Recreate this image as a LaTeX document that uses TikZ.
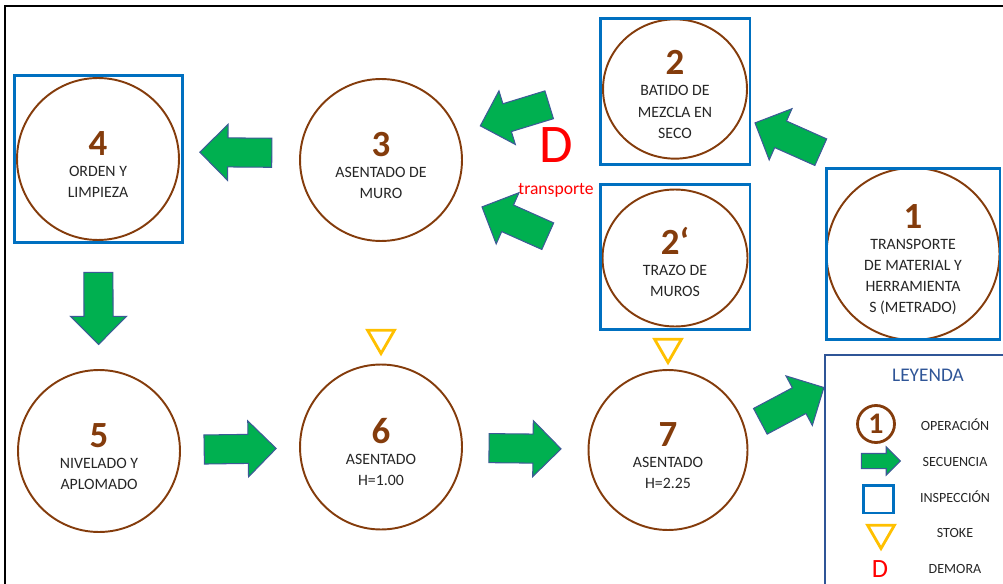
\documentclass[tikz,border=0pt]{standalone}
\usepackage{fontspec}
\setmainfont{Carlito}
\usetikzlibrary{shapes.geometric,shapes.arrows,positioning}

\definecolor{cafe}{RGB}{132,60,12}
\definecolor{azul}{RGB}{0,112,192}
\definecolor{verde}{RGB}{0,176,80}
\definecolor{borde}{RGB}{60,90,150}
\definecolor{ambar}{RGB}{255,192,0}
\definecolor{azuloscuro}{RGB}{47,85,151}
\definecolor{texto}{RGB}{38,38,38}

\tikzset{
  op/.style={draw=cafe,line width=1.1pt,ellipse,inner sep=0pt,align=center,
    font=\fontsize{9}{12}\selectfont,text=texto},
  insp/.style={draw=azul,line width=1.7pt,rectangle,inner sep=0pt},
  sec/.style={single arrow,draw=borde,fill=verde,line width=0.6pt,
    text height=0pt,text depth=0pt,inner xsep=0pt,inner ysep=0.28cm,
    minimum height=1.44cm,single arrow head extend=0.27cm,
    allow upside down},
  stoke/.style={regular polygon,regular polygon sides=3,shape border rotate=180,
    draw=ambar,line width=1.6pt,inner sep=0pt,minimum size=0.62cm},
  leg/.style={font=\fontsize{8}{10}\selectfont,text=texto},
}
\newcommand{\opnum}[1]{{\fontsize{21}{21}\selectfont\bfseries\color{cafe}\rule{0pt}{20pt}#1}}

\begin{document}
\begin{tikzpicture}[x=0.02cm,y=-0.02cm]
\useasboundingbox (0,0) rectangle (1003,584);
\draw[line width=1.4pt] (5,600) -- (5,6) -- (1020,6);

% operaciones
\node[op,minimum width=3.46cm,minimum height=3.34cm] (op1) at (913,254)
    {\opnum{1}\\TRANSPORTE\\DE MATERIAL Y\\HERRAMIENTA\\S (METRADO)};
\node[op,minimum width=2.88cm,minimum height=2.72cm] (op2) at (675,89)
    {\opnum{2}\\BATIDO DE\\MEZCLA EN\\SECO};
\node[op,minimum width=2.9cm,minimum height=2.74cm] (op2b) at (675,258)
    {\opnum{2‘}\\TRAZO DE\\MUROS};
\node[op,minimum width=3.24cm,minimum height=3.24cm] (op3) at (381,160)
    {\opnum{3}\\ASENTADO DE\\MURO};
\node[op,minimum width=3.24cm,minimum height=3.24cm] (op4) at (98,159)
    {\opnum{4}\\ORDEN Y\\LIMPIEZA};
\node[op,minimum width=3.24cm,minimum height=3.24cm] (op5) at (99,451)
    {\opnum{5}\\NIVELADO Y\\APLOMADO};
\node[op,minimum width=3.24cm,minimum height=3.3cm] (op6) at (381,447)
    {\opnum{6}\\ASENTADO\\H=1.00};
\node[op,minimum width=3.18cm,minimum height=3.2cm] (op7) at (668,450)
    {\opnum{7}\\ASENTADO\\H=2.25};

% inspecciones
\node[insp,minimum width=3.48cm,minimum height=3.44cm] (b1) at (913,254) {};
\node[insp,minimum width=3cm,minimum height=2.94cm] (b2) at (675,91.5) {};
\node[insp,minimum width=3cm,minimum height=2.92cm] (b2b) at (675,257) {};
\node[insp,minimum width=3.38cm,minimum height=3.36cm] (b4) at (98.5,159) {};

% secuencia
\path ([yshift=0.14cm]op3.west) -- ([yshift=0.14cm]op4.east) node[sec,pos=0.47,sloped] (s34) {};
\path (op4) -- (op5) node[sec,pos=0.47,sloped] (s45) {};
\path (op5) -- (op6) node[sec,pos=0.44,sloped] (s56) {};
\path (op6) -- (op7) node[sec,pos=0.44,sloped] (s67) {};
\node[sec,rotate=156] (s12) at (794.5,140.5) {};
\node[sec,rotate=197] (s23) at (521.7,113.2) {};
\node[sec,rotate=156] (s2b3) at (521.5,224.5) {};
\node[sec,rotate=28] (s7l) at (785.7,407.8) {};

% stoke y demora
\node[stoke] (st6) at (381,338) {};
\node[stoke] (st7) at (668,347) {};
\node[text=red,font=\fontsize{31}{31}\selectfont] (dem) at (556,145) {D};
\node[text=red,font=\fontsize{10}{12}\selectfont] (trans) at (556,190) {transporte};

% leyenda
\node[draw=azuloscuro,line width=1.2pt,anchor=north west,
    minimum width=3.8cm,minimum height=5cm] (leyenda) at (824,354) {};
\node[text=azuloscuro,font=\fontsize{11}{13}\selectfont] (tley) at (928,375) {LEYENDA};
\node[draw=cafe,line width=1.6pt,circle,minimum size=0.74cm,inner sep=0pt] (lop) at (876,424)
    {\fontsize{17}{17}\selectfont\bfseries\color{cafe}1};
\node[sec,minimum height=0.78cm,inner ysep=0.14cm,single arrow head extend=0.13cm] (lsec) at (877,461) {};
\node[insp,minimum width=0.6cm,minimum height=0.56cm] (lins) at (878,499) {};
\node[stoke] (lst) at (881,533) {};
\node[text=red,font=\fontsize{15}{15}\selectfont] (ldem) at (880,569) {D};
\node[leg] (top) at (955,425) {OPERACIÓN};
\node[leg] (tsec) at (955,462) {SECUENCIA};
\node[leg] (tins) at (955,497) {INSPECCIÓN};
\node[leg] (tst) at (955,533) {STOKE};
\node[leg] (tdem) at (955,569) {DEMORA};

\end{tikzpicture}
\end{document}
